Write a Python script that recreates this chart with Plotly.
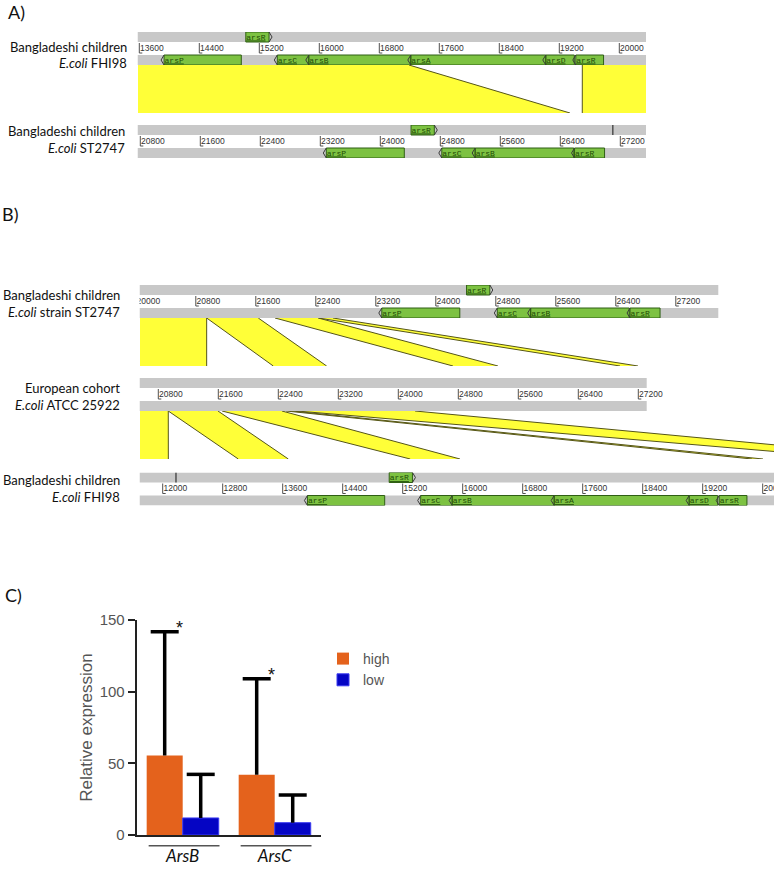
import plotly.graph_objects as go

W, H = 774, 869
SCALE = 0.075  # pixels per base pair (viewer zoom, shared by all tracks)

# ---------------- genome annotation data ----------------
# E.coli FHI98 ars locus (Bangladeshi children)
fhi98_rev_names = ["arsP", "arsC", "arsB", "arsA", "arsD", "arsR"]
fhi98_rev_start = [13930, 15440, 15860, 17220, 19020, 19420]
fhi98_rev_end = [14960, 15860, 17220, 19020, 19400, 19790]
fhi98_fwd_names = ["arsR"]
fhi98_fwd_start = [15020]
fhi98_fwd_end = [15330]

# E.coli ST2747 ars locus (Bangladeshi children)
st2747_rev_names = ["arsP", "arsC", "arsB", "arsR"]
st2747_rev_start = [23280, 24820, 25265, 26590]
st2747_rev_end = [24320, 25265, 26580, 26990]
st2747_fwd_names = ["arsR"]
st2747_fwd_start = [24410]
st2747_fwd_end = [24720]

# coordinate tick labels shown on each track
ticks_fhi98_a = [13600, 14400, 15200, 16000, 16800, 17600, 18400, 19200, 20000]
ticks_st2747_a = [20800, 21600, 22400, 23200, 24000, 24800, 25600, 26400, 27200]
ticks_st2747_b = [20000, 20800, 21600, 22400, 23200, 24000, 24800, 25600, 26400, 27200]
ticks_atcc_b = [20800, 21600, 22400, 23200, 24000, 24800, 25600, 26400, 27200]
ticks_fhi98_b = [12000, 12800, 13600, 14400, 15200, 16000, 16800, 17600, 18400, 19200, 20000]

# cursor marks on the forward-strand bar
marks_st2747_a = [27100]
marks_fhi98_b = [12177]

# matching regions (top genome start/end, bottom genome start/end)
cmpA_top_start = [13583, 19507]
cmpA_top_end = [17196, 20356]
cmpA_bot_start = [20769, 26693]
cmpA_bot_end = [26529, 27543]

cmpB1_top_start = [20056, 20945, 21856, 22433]
cmpB1_top_end = [20945, 21633, 22433, 22629]
cmpB1_bot_start = [20556, 22333, 24729, 26956]
cmpB1_bot_end = [21445, 23045, 25329, 27196]

cmpB2_top_start = [20556, 20933, 21650, 22649, 22503]
cmpB2_top_end = [20933, 21596, 22449, 24223, 22583]
cmpB2_bot_start = [11697, 13008, 15300, 21337, 19857]
cmpB2_bot_end = [12075, 13675, 15964, 22164, 20004]

# ---------------- expression data (panel C) ----------------
categories = ["ArsB", "ArsC"]
high_mean = [55.5, 42.1]
high_err = [86.3, 66.9]
low_mean = [11.9, 8.6]
low_err = [30.4, 19.3]
yticks = [0, 50, 100, 150]

# ---------------- styles ----------------
GRAY = "#c8c8c8"
GREEN = "#7dc242"
GREEN_LINE = "#2f5f14"
GENE_TXT = "#1d4a06"
YELLOW = "#ffff38"
EDGE = "#55551a"
TICKC = "#505050"
LABEL_FONT = "Lato"

TRACK_H = 33
ROW = 10

fig = go.Figure()
shapes = []
annotations = []
axes = {}


def axname(n, kind):
    return kind if n == 1 else f"{kind}{n}"


def layout_key(n, kind):
    return f"{kind}axis" if n == 1 else f"{kind}axis{n}"


def px_to_bp(cfg, px):
    return cfg["ref_bp"] + (px - cfg["ref_px"]) / SCALE


def bp_to_px(cfg, bp):
    return cfg["ref_px"] + (bp - cfg["ref_bp"]) * SCALE


def set_axes(n, px0, px1, py_top, py_bot, xrange, yrange):
    axes[layout_key(n, "x")] = dict(domain=[px0 / W, min(px1 / W, 1)], range=xrange,
                                    visible=False, fixedrange=True, anchor=axname(n, "y"),
                                    automargin=False)
    axes[layout_key(n, "y")] = dict(domain=[1 - py_bot / H, 1 - py_top / H], range=yrange,
                                    visible=False, fixedrange=True, anchor=axname(n, "x"),
                                    automargin=False)


def draw_track(n, cfg, rev, fwd, ticks, marks):
    # axis extends a little past the bar end so that the last label is not clipped
    ax_end = min(cfg["px1"] + 30, W)
    xr = [px_to_bp(cfg, cfg["px0"]), px_to_bp(cfg, ax_end)]
    bar_end = px_to_bp(cfg, cfg["px1"])
    set_axes(n, cfg["px0"], ax_end, cfg["top"], cfg["top"] + TRACK_H, xr, [0, TRACK_H])
    xa, ya = axname(n, "x"), axname(n, "y")
    for y0, y1 in [(0, ROW), (TRACK_H - ROW, TRACK_H)]:
        shapes.append(dict(type="rect", xref=xa, yref=ya, x0=xr[0], x1=bar_end,
                           y0=y0, y1=y1, fillcolor=GRAY, line_width=0, layer="below"))
    # coordinate ticks
    tx, ty = [], []
    foot = 3 / SCALE
    for t in ticks:
        tx += [t, t, t + foot, None]
        ty += [22, 12, 12, None]
    fig.add_trace(go.Scatter(x=tx, y=ty, mode="lines", line=dict(color=TICKC, width=1),
                             xaxis=xa, yaxis=ya, hoverinfo="skip", showlegend=False))
    fig.add_trace(go.Scatter(x=[t + 0.8 / SCALE for t in ticks], y=[16.5] * len(ticks),
                             mode="text", text=[str(t) for t in ticks],
                             textposition="middle right",
                             textfont=dict(family="Liberation Sans", size=8.5, color="#333"),
                             xaxis=xa, yaxis=ya, hoverinfo="skip", showlegend=False))
    # marks
    if marks:
        mx, my = [], []
        for m in marks:
            mx += [m, m, None]
            my += [TRACK_H - ROW, TRACK_H, None]
        fig.add_trace(go.Scatter(x=mx, y=my, mode="lines", line=dict(color="#505050", width=1.5),
                                 xaxis=xa, yaxis=ya, hoverinfo="skip", showlegend=False))
    # genes
    head = 3 / SCALE
    for (names, starts, ends), forward in ((rev, False), (fwd, True)):
        y0, y1 = (TRACK_H - ROW, TRACK_H) if forward else (0, ROW)
        bx, by, ax_, ay_, lx, ly, lt = [], [], [], [], [], [], []
        for nm, s, e in zip(names, starts, ends):
            bx += [s, e, e, s, s, None]
            by += [y0, y0, y1, y1, y0, None]
            if forward:
                ax_ += [e, e + head, e, None]
            else:
                ax_ += [s, s - head, s, None]
            ay_ += [y1, (y0 + y1) / 2, y0, None]
            lx.append(s + 0.5 / SCALE)
            ly.append((y0 + y1) / 2 - 0.5)
            lt.append(f"<u>{nm}</u>")
        if not bx:
            continue
        fig.add_trace(go.Scatter(x=bx, y=by, mode="lines", fill="toself", fillcolor=GREEN,
                                 line=dict(color=GREEN_LINE, width=1),
                                 xaxis=xa, yaxis=ya, hoverinfo="skip", showlegend=False))
        fig.add_trace(go.Scatter(x=ax_, y=ay_, mode="lines", line=dict(color="#3a3a3a", width=1),
                                 xaxis=xa, yaxis=ya, hoverinfo="skip", showlegend=False))
        fig.add_trace(go.Scatter(x=lx, y=ly, mode="text", text=lt, textposition="middle right",
                                 textfont=dict(family="Liberation Mono", size=8, color=GENE_TXT),
                                 xaxis=xa, yaxis=ya, hoverinfo="skip", showlegend=False))


def draw_conn(n, top_cfg, bot_cfg, px0, px1, py_top, py_bot, ts, te, bs, be):
    xr = [px_to_bp(top_cfg, px0), px_to_bp(top_cfg, px1)]
    set_axes(n, px0, px1, py_top, py_bot, xr, [0, 1])
    xa, ya = axname(n, "x"), axname(n, "y")

    def conv(b):
        return px_to_bp(top_cfg, bp_to_px(bot_cfg, b))

    fx, fy, ex, ey = [], [], [], []
    for a, b, c, d in zip(ts, te, bs, be):
        fx += [a, b, conv(d), conv(c), a, None]
        fy += [1, 1, 0, 0, 1, None]
        for top, bot in ((a, c), (b, d)):
            p = bp_to_px(top_cfg, top)
            if abs(p - px0) < 2 or abs(p - px1) < 2:
                continue
            ex += [top, conv(bot), None]
            ey += [1, 0, None]
    fig.add_trace(go.Scatter(x=fx, y=fy, mode="lines", fill="toself", fillcolor=YELLOW,
                             line=dict(width=0, color=YELLOW), xaxis=xa, yaxis=ya,
                             hoverinfo="skip", showlegend=False))
    fig.add_trace(go.Scatter(x=ex, y=ey, mode="lines", line=dict(color=EDGE, width=1),
                             xaxis=xa, yaxis=ya, hoverinfo="skip", showlegend=False))


# track layout (pixel placement and viewer calibration)
A1 = dict(px0=137.5, px1=646, top=32, ref_bp=13600, ref_px=139.3)
A2 = dict(px0=137.5, px1=646, top=125, ref_bp=20800, ref_px=140.3)
B1 = dict(px0=139.5, px1=718.3, top=285, ref_bp=20800, ref_px=195.8)
B2 = dict(px0=139.5, px1=646.7, top=378, ref_bp=20800, ref_px=158.3)
B3 = dict(px0=139.5, px1=774, top=472.5, ref_bp=12000, ref_px=162.7)

fhi_rev = (fhi98_rev_names, fhi98_rev_start, fhi98_rev_end)
fhi_fwd = (fhi98_fwd_names, fhi98_fwd_start, fhi98_fwd_end)
st_rev = (st2747_rev_names, st2747_rev_start, st2747_rev_end)
st_fwd = (st2747_fwd_names, st2747_fwd_start, st2747_fwd_end)

draw_conn(3, A1, A2, 137.5, 646, 65, 113, cmpA_top_start, cmpA_top_end, cmpA_bot_start, cmpA_bot_end)
draw_conn(6, B1, B2, 139.5, 718.3, 318, 366, cmpB1_top_start, cmpB1_top_end, cmpB1_bot_start, cmpB1_bot_end)
draw_conn(8, B2, B3, 139.5, 774, 411, 459, cmpB2_top_start, cmpB2_top_end, cmpB2_bot_start, cmpB2_bot_end)

draw_track(1, A1, fhi_rev, fhi_fwd, ticks_fhi98_a, [])
draw_track(2, A2, st_rev, st_fwd, ticks_st2747_a, marks_st2747_a)
draw_track(4, B1, st_rev, st_fwd, ticks_st2747_b, [])
draw_track(5, B2, ([], [], []), ([], [], []), ticks_atcc_b, [])
draw_track(7, B3, fhi_rev, fhi_fwd, ticks_fhi98_b, marks_fhi98_b)

# track labels
track_labels = [
    ("Bangladeshi children", 128.5, 46.7), ("<i>E.coli</i> FHI98", 128.5, 63.3),
    ("Bangladeshi children", 126.5, 131), ("<i>E.coli</i> ST2747", 126.5, 147.7),
    ("Bangladeshi children", 122, 295), ("<i>E.coli</i> strain ST2747", 122, 311.7),
    ("European cohort", 122, 388), ("<i>E.coli</i> ATCC 25922", 122, 405),
    ("Bangladeshi children", 121.5, 480), ("<i>E.coli</i> FHI98", 121.5, 497),
]
for txt, xr_, yc in track_labels:
    annotations.append(dict(text=txt, xref="paper", yref="paper", x=xr_ / W, y=1 - yc / H,
                            xanchor="right", yanchor="middle", showarrow=False,
                            font=dict(family=LABEL_FONT, size=13, color="#111")))

for txt, xl, yc in [("A)", 6, 12), ("B)", 0, 214), ("C)", 3, 595)]:
    annotations.append(dict(text=txt, xref="paper", yref="paper", x=xl / W, y=1 - yc / H,
                            xanchor="left", yanchor="middle", showarrow=False,
                            font=dict(family=LABEL_FONT, size=18, color="#111")))

# ---------------- panel C bar chart ----------------
ORANGE = "#e4621c"
BLUE = "#0505c4"
BARGAP = 0.217
xpos = list(range(len(categories)))
half = (1 - BARGAP) / 4  # centre offset of each bar within a group

fig.add_trace(go.Bar(x=xpos, y=high_mean, name="high", marker=dict(color=ORANGE, line_width=0),
                     error_y=dict(type="data", array=high_err, arrayminus=[0] * len(high_err),
                                  symmetric=False, color="black", thickness=3.5, width=0),
                     xaxis="x9", yaxis="y9", hoverinfo="skip"))
fig.add_trace(go.Bar(x=xpos, y=low_mean, name="low",
                     marker=dict(color=BLUE, line=dict(color="#3c3cf0", width=1)),
                     error_y=dict(type="data", array=low_err, arrayminus=[0] * len(low_err),
                                  symmetric=False, color="black", thickness=3.5, width=0),
                     xaxis="x9", yaxis="y9", hoverinfo="skip"))
# error-bar caps (upper end only)
fig.add_trace(go.Scatter(
    x=[i - half for i in xpos] + [i + half for i in xpos],
    y=[m + e for m, e in zip(high_mean, high_err)] + [m + e for m, e in zip(low_mean, low_err)],
    mode="markers", marker=dict(symbol="line-ew", size=20, line=dict(color="black", width=3.5)),
    xaxis="x9", yaxis="y9", hoverinfo="skip", showlegend=False, cliponaxis=False))

axes["xaxis9"] = dict(domain=[136.7 / W, 320.7 / W], anchor="y9",
                      range=[-0.5, 1.5], tickvals=xpos, ticktext=categories,
                      showline=True, linecolor="#222", linewidth=2,
                      ticks="outside", ticklen=5, tickcolor="rgba(0,0,0,0)",
                      tickfont=dict(family=LABEL_FONT, size=17, color="#111", style="italic"),
                      showgrid=False, zeroline=False, fixedrange=True, automargin=False)
axes["yaxis9"] = dict(domain=[1 - 835 / H, 1 - 620 / H], anchor="x9", range=[0, 150],
                      tickvals=yticks, ticks="outside", ticklen=7, tickwidth=2, tickcolor="#222",
                      showline=True, linecolor="#222", linewidth=2, showgrid=False, zeroline=False,
                      tickfont=dict(family="Liberation Sans", size=15, color="#555"),
                      title=dict(text="Relative expression", standoff=3,
                                 font=dict(family="Liberation Sans", size=17, color="#555")),
                      fixedrange=True, automargin=False)

for i in xpos:
    shapes.append(dict(type="line", xref="x9", yref="paper", x0=i - 0.37, x1=i + 0.40,
                       y0=1 - 845.7 / H, y1=1 - 845.7 / H, line=dict(color="#555", width=1.5)))
    annotations.append(dict(text="*", xref="x9", yref="y9", x=i, y=high_mean[i] + high_err[i],
                            xshift=-3, yshift=4, showarrow=False,
                            font=dict(family="Liberation Sans", size=18, color="#111")))

fig.update_layout(
    width=W, height=H, margin=dict(l=0, r=0, t=0, b=0, autoexpand=False),
    paper_bgcolor="white", plot_bgcolor="white",
    barmode="group", bargap=BARGAP, bargroupgap=0,
    showlegend=True,
    legend=dict(x=323 / W, y=1 - 643 / H, xanchor="left", yanchor="top",
                bgcolor="rgba(0,0,0,0)", font=dict(family="Liberation Sans", size=14, color="#555"),
                itemwidth=30, tracegroupgap=0),
    hovermode=False,
    shapes=shapes, annotations=annotations,
    **axes,
)

fig.write_html("out.html", config={"displayModeBar": False},
               post_script="document.body.style.margin='0px';")
